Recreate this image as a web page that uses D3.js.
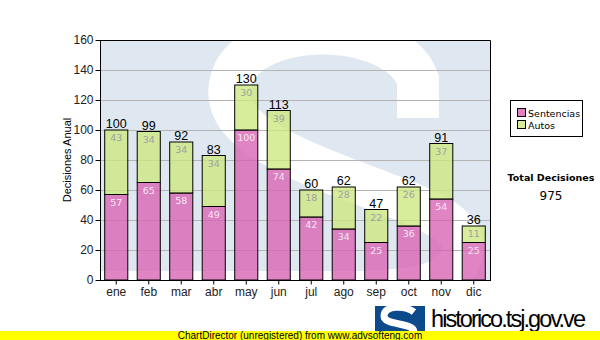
<!DOCTYPE html>
<html><head><meta charset="utf-8">
<script src="https://cdn.jsdelivr.net/npm/d3@7"></script>
<style>body{margin:0;background:#fff}svg{display:block}</style>
</head><body>
<svg id="c" width="600" height="340"></svg>
<script>
const months = ["ene","feb","mar","abr","may","jun","jul","ago","sep","oct","nov","dic"];
const sentencias = [57,65,58,49,100,74,42,34,25,36,54,25];
const autos = [43,34,34,34,30,39,18,28,22,26,37,11];
const yTicks = [0,20,40,60,80,100,120,140,160];
const seriesNames = ["Sentencias","Autos"];
const totalLabel = "Total Decisiones";

const svg = d3.select("#c");
const P = {l:100, t:40, r:490, b:280};
const x = d3.scaleBand().domain(months).range([P.l,P.r]).paddingInner(0.29).paddingOuter(0.145);
const y = d3.scaleLinear().domain([0,160]).range([P.b,P.t]);

// plot background + watermark
svg.append("clipPath").attr("id","pc").append("rect")
  .attr("x",P.l).attr("y",P.t).attr("width",P.r-P.l).attr("height",P.b-P.t);
const wm = svg.append("g").attr("clip-path","url(#pc)");
wm.append("rect").attr("x",P.l).attr("y",P.t).attr("width",P.r-P.l).attr("height",P.b-P.t).attr("fill","#dfe8f1");
const wx = v => P.l + v, wy = v => P.t + v;
const sPath = `M${wx(318)},${wy(78)} L${wx(318)},${wy(40)} C${wx(300)},${wy(-15)} ${wx(170)},${wy(-25)} ${wx(135)},${wy(30)}
 C${wx(110)},${wy(80)} ${wx(170)},${wy(110)} ${wx(250)},${wy(140)}
 C${wx(330)},${wy(170)} ${wx(375)},${wy(185)} ${wx(360)},${wy(220)}
 C${wx(345)},${wy(255)} ${wx(280)},${wy(252)} ${wx(200)},${wy(252)} L${wx(-10)},${wy(252)}`;
wm.append("path").attr("d",sPath).attr("fill","none").attr("stroke","#fff").attr("stroke-width",42);

// gridlines
svg.append("g").selectAll("line").data(yTicks.filter(d=>d>0&&d<160)).join("line")
  .attr("x1",P.l).attr("x2",P.r).attr("y1",d=>y(d)+0.5).attr("y2",d=>y(d)+0.5)
  .attr("stroke","#b4b4b4").attr("stroke-width",1);

// bars
const g = svg.append("g");
months.forEach((m,i)=>{
  const s = sentencias[i], a = autos[i], t = s+a;
  const bx = x(m), bw = x.bandwidth();
  g.append("rect").attr("x",bx).attr("y",y(s)).attr("width",bw).attr("height",y(0)-y(s))
    .attr("fill","#d862b2").attr("fill-opacity",0.78).attr("stroke","#000").attr("stroke-width",1);
  g.append("rect").attr("x",bx).attr("y",y(t)).attr("width",bw).attr("height",y(s)-y(t))
    .attr("fill","#cde87f").attr("fill-opacity",0.78).attr("stroke","#000").attr("stroke-width",1);
  g.append("text").attr("x",bx+bw/2).attr("y",y(s)+11).attr("text-anchor","middle")
    .attr("font-family","DejaVu Sans").attr("font-size",9.5).attr("fill","#f6e6f2").text(s);
  g.append("text").attr("x",bx+bw/2).attr("y",y(t)+11).attr("text-anchor","middle")
    .attr("font-family","DejaVu Sans").attr("font-size",9.5).attr("fill","#a0a0a0").text(a);
  g.append("text").attr("x",bx+bw/2).attr("y",y(t)-2).attr("text-anchor","middle")
    .attr("font-family","Liberation Sans").attr("font-size",12.5).attr("fill","#000").text(t);
});

// frame
svg.append("path").attr("d",`M${P.l+0.5},${P.t+0.5}H${P.r+0.5}V${P.b}`).attr("fill","none").attr("stroke","#000");

// axes
const ya = svg.append("g").attr("transform",`translate(${P.l+0.5},0)`)
  .call(d3.axisLeft(y).tickValues(yTicks).tickSize(5).tickPadding(2));
ya.select(".domain").attr("d",`M0,${P.t}V${P.b}`).attr("stroke","#000");
ya.selectAll("text").attr("font-family","Liberation Sans").attr("font-size",12).attr("fill","#222");
const xa = svg.append("g").attr("transform",`translate(0,${P.b+0.5})`)
  .call(d3.axisBottom(x).tickSize(4).tickPadding(3));
xa.select(".domain").attr("d",`M${P.l},0H${P.r+1}`).attr("stroke","#000");
xa.selectAll("text").attr("font-family","Liberation Sans").attr("font-size",12).attr("fill","#222");

svg.append("text").attr("transform",`translate(71,160) rotate(-90)`).attr("text-anchor","middle")
  .attr("font-family","Liberation Sans").attr("font-size",11).attr("fill","#000").text("Decisiones Anual");

// legend
const lg = svg.append("g");
lg.append("rect").attr("x",510.5).attr("y",100.5).attr("width",72).attr("height",36).attr("fill","#fff").attr("stroke","#000");
const lcol = ["#e080c0","#d6ec9a"];
seriesNames.forEach((n,i)=>{
  lg.append("rect").attr("x",517.5).attr("y",108.5+i*12).attr("width",8).attr("height",8)
    .attr("fill",lcol[i]).attr("stroke","#000");
  lg.append("text").attr("x",528).attr("y",117+i*12).attr("font-family","DejaVu Sans").attr("font-size",9.5)
    .attr("fill","#000").text(n);
});
svg.append("text").attr("x",551).attr("y",181).attr("text-anchor","middle").attr("font-family","DejaVu Sans")
  .attr("font-weight","bold").attr("font-size",9.5).text(totalLabel);
svg.append("text").attr("x",551).attr("y",200).attr("text-anchor","middle").attr("font-family","DejaVu Sans")
  .attr("font-size",12).text(d3.sum(sentencias)+d3.sum(autos));

// logo
const lo = svg.append("g");
lo.append("rect").attr("x",375).attr("y",306).attr("width",50).attr("height",34).attr("fill","#0d4a8c");
lo.append("path").attr("d","M414,312 C405,305 384,305 384,316 C384,326 414,322 414,332 C414,342 392,340 385,334")
  .attr("fill","none").attr("stroke","#fff").attr("stroke-width",7);
svg.append("text").attr("x",431).attr("y",327).attr("font-family","Liberation Sans").attr("font-size",23.5)
  .attr("textLength",155).attr("fill","#000").text("historico.tsj.gov.ve");
svg.append("text").attr("x",431).attr("y",339).attr("font-family","Liberation Sans").attr("font-size",10)
  .attr("fill","#000").text("Tribunal Supremo de Justicia");

svg.append("rect").attr("x",0).attr("y",331).attr("width",600).attr("height",9).attr("fill","#ffff00");
svg.append("text").attr("x",300).attr("y",339).attr("text-anchor","middle").attr("font-family","Liberation Sans")
  .attr("font-size",10).attr("fill","#000").text("ChartDirector (unregistered) from www.advsofteng.com");
</script>
</body></html>
